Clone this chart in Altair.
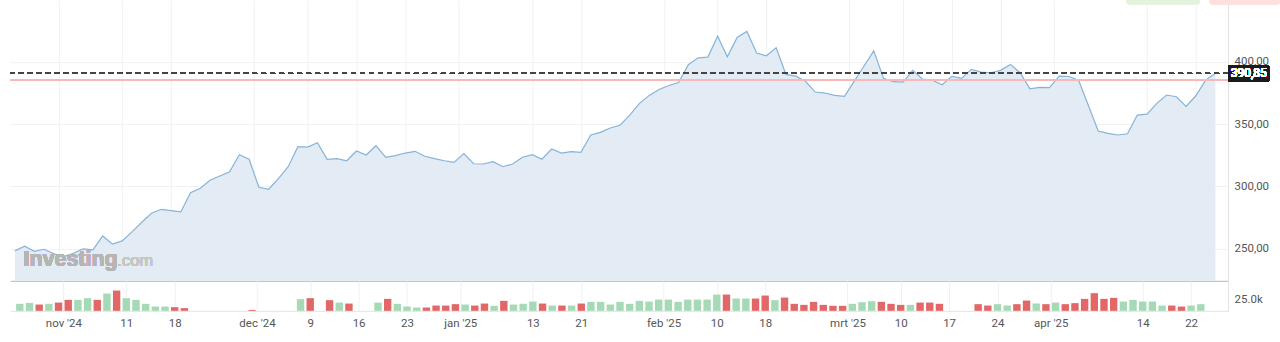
import json
import altair as alt
import pandas as pd

# ---- data (trading-day index 0 = 25 Oct 2024) ----
prices = [
    248.1, 251.8, 247.8, 249.4, 245.7, 243.5, 246.2, 249.7, 248.9, 260.1,
    253.5, 256.1, 263.4, 271.1, 278.3, 281.5, 280.4, 279.4, 294.9, 298.4,
    304.8, 308.3, 311.7, 325.4, 321.7, 299.2, 297.6, 306.1, 315.7, 331.8,
    331.5, 335.0, 321.7, 322.2, 320.5, 328.3, 325.1, 332.6, 323.3, 324.6,
    326.7, 328.1, 324.1, 322.2, 320.5, 319.2, 326.2, 318.1, 317.9, 319.7,
    315.7, 317.9, 323.3, 325.4, 321.7, 329.9, 326.7, 327.8, 327.2, 341.2,
    343.3, 346.8, 349.0, 357.2, 366.6, 373.0, 377.8, 381.0, 383.4, 397.6,
    403.2, 403.8, 420.6, 404.0, 419.6, 424.4, 407.0, 404.8, 411.2, 389.9,
    388.5, 384.3, 375.7, 374.9, 373.0, 372.2, 384.5, 396.6, 408.8, 386.7,
    384.0, 383.7, 393.1, 386.1, 385.3, 381.5, 388.3, 386.7, 393.9, 391.7,
    391.2, 393.1, 397.9, 391.2, 378.3, 379.5, 379.2, 388.5, 388.2, 385.0,
    364.7, 344.4, 342.5, 341.2, 342.2, 357.2, 358.0, 366.6, 373.3, 371.9,
    364.2, 372.7, 385.3, 390.85,
]

# volume in thousands (None = no bar)
volumes = [
    15.0, 17.1, 13.5, 15.0, 17.7, 23.5, 23.5, 27.1, 23.5, 37.0,
    43.4, 27.1, 23.5, 15.0, 9.2, 9.2, 7.9, 5.8, None, None,
    None, None, None, None, 2.0, None, None, None, None, 25.0,
    27.1, None, 22.9, 17.7, 15.6, None, None, 17.7, 25.6, 15.0,
    9.2, 7.1, 7.1, 11.3, 11.3, 14.3, 13.5, 11.3, 15.6, 10.7,
    21.4, 13.5, 15.0, 19.9, 15.6, 11.3, 11.3, 11.3, 15.6, 19.2,
    19.2, 13.5, 19.2, 15.0, 21.4, 19.9, 24.1, 24.1, 19.2, 24.1,
    24.1, 24.1, 34.8, 34.8, 26.3, 26.3, 26.3, 32.7, 22.9, 28.4,
    15.0, 12.8, 19.2, 12.8, 10.7, 10.7, 15.0, 18.6, 20.7, 19.2,
    15.0, 12.8, 12.8, 17.7, 17.7, 15.0, None, None, None, 14.3,
    11.3, 14.3, 11.3, 14.3, 22.0, 15.6, 14.3, 17.7, 14.3, 16.5,
    25.6, 37.8, 25.6, 27.8, 19.9, 23.5, 19.9, 19.9, 11.3, 11.3,
    9.2, 11.3, 14.3, None,
]

# bar colour per day: u = up day (green), d = down day (red)
direction_rows = [
    "uududduudu", "duuuuudduu", "uuuuddduuu",
    "dududududu", "uudddduddu", "duuudududu", "uuuuuuuuuu",
    "uuuduuddud", "dddddduuud", "ddudddudud", "duuddududd",
    "dddduuuuud", "duuu",
]
directions = list("".join(direction_rows))

tick_positions = [4.5, 11, 16, 24.5, 30, 35, 40, 45.5, 53, 58, 66.5, 72, 77,
                  85.5, 91, 96, 101, 106.5, 116, 121]
tick_labels = ["nov '24", "11", "18", "dec '24", "9", "16", "23", "jan '25",
               "13", "21", "feb '25", "10", "18", "mrt '25", "10", "17", "24",
               "apr '25", "14", "22"]

price_ticks = [250, 300, 350, 400]
volume_ticks = [25]

n = len(prices)
directions = (directions + ["u"] * n)[:n]
volumes = (volumes + [None] * n)[:n]

df = pd.DataFrame({
    "i": list(range(n)),
    "price": prices,
    "vol": volumes,
    "dir": ["up" if d == "u" else "down" for d in directions],
})
vol_df = df.dropna(subset=["vol"])

W = 1219.4
X_DOMAIN = [-0.5, 124.3]
FONT = "Roboto"
LABEL_COLOR = "#555555"
GRID = "#f1f1f1"

label_expr = (
    f"{json.dumps(tick_labels)}[indexof({json.dumps(tick_positions)}, datum.value)]"
)

last_price = prices[-1]
prev_close = prices[-2]

x_price = alt.X(
    "i:Q",
    scale=alt.Scale(domain=X_DOMAIN, nice=False, zero=False),
    axis=alt.Axis(values=tick_positions, labels=False, ticks=False, title=None,
                  domain=True, domainColor="#c4c4c4", domainWidth=1.2,
                  grid=True, gridColor=GRID),
)
y_price = alt.Y(
    "price:Q",
    scale=alt.Scale(domain=[224, 449.5], nice=False, zero=False),
    axis=alt.Axis(orient="right", values=price_ticks, title=None, ticks=False,
                  domain=True, domainColor="#e2e2e2", grid=True, gridColor=GRID,
                  labelExpr="replace(format(datum.value, '.2f'), '.', ',')",
                  labelPadding=6, labelFontSize=11.5, labelColor=LABEL_COLOR,
                  labelFont=FONT),
)

base = alt.Chart(df)
area = base.mark_area(color="#e3ecf5", opacity=1, clip=True).encode(x=x_price, y=y_price)
line = base.mark_line(color="#86b3d8", strokeWidth=1.2).encode(x="i:Q", y="price:Q")

prev_rule = alt.Chart(df).mark_rule(color="#f6b9b9", strokeWidth=1.4).encode(
    y=alt.datum(prev_close))
last_rule = alt.Chart(df).mark_rule(color="#444444", strokeWidth=1.1,
                                    strokeDash=[5, 4]).encode(y=alt.datum(last_price))

box = alt.Chart(df).mark_rect(color="#1b1b1b", yOffset=-8, y2Offset=8).encode(
    x=alt.value(W + 0.5), x2=alt.value(W + 41),
    y=alt.datum(last_price), y2=alt.datum(last_price))
box_text = alt.Chart(df).mark_text(
    color="white", fontSize=12, font=FONT, align="center", baseline="middle",
).encode(x=alt.value(W + 20.8), y=alt.datum(last_price),
         text=alt.value(f"{last_price:.2f}".replace(".", ",")))

wm1 = alt.Chart(df).mark_text(
    text="Investing", color="#b5b5b5", fontSize=21.5, fontWeight="bold",
    font="Liberation Sans", align="left", baseline="alphabetic",
).encode(x=alt.value(13.5), y=alt.value(266.5))
wm2 = alt.Chart(df).mark_text(
    text=".com", color="#c6c6c6", fontSize=16.5, font="Liberation Sans",
    align="left", baseline="alphabetic",
).encode(x=alt.value(107.5), y=alt.value(266.5))

# partially visible buttons at the top edge
btn_green = alt.Chart(df).mark_rect(
    color="#e4f3de", cornerRadiusBottomLeft=3, cornerRadiusBottomRight=3
).encode(x=alt.value(1118), x2=alt.value(1191), y=alt.value(0), y2=alt.value(4))
btn_red = alt.Chart(df).mark_rect(
    color="#fde0df", cornerRadiusBottomLeft=3, cornerRadiusBottomRight=3
).encode(x=alt.value(1201), x2=alt.value(1271), y=alt.value(0), y2=alt.value(4))

price_panel = alt.layer(area, line, prev_rule, last_rule, box, box_text, wm1, wm2,
                        btn_green, btn_red).properties(width=W, height=281)

vol_panel = alt.Chart(vol_df).mark_bar(width=7.4).encode(
    x=alt.X("i:Q", scale=alt.Scale(domain=X_DOMAIN, nice=False, zero=False),
            axis=alt.Axis(values=tick_positions, labelExpr=label_expr, title=None,
                          ticks=False, domain=True, domainColor="#e4e4e4",
                          grid=True, gridColor=GRID, labelFontSize=11.5,
                          labelColor=LABEL_COLOR, labelFont=FONT, labelPadding=7,
                          labelFlush=False, labelOverlap=False)),
    y=alt.Y("vol:Q", scale=alt.Scale(domain=[0, 64.1], nice=False),
            axis=alt.Axis(orient="right", values=volume_ticks, title=None,
                          ticks=False, grid=False, domain=True,
                          domainColor="#e2e2e2",
                          labelExpr="format(datum.value, '.1f') + 'k'",
                          labelPadding=6, labelFontSize=11.5,
                          labelColor=LABEL_COLOR, labelFont=FONT)),
    color=alt.Color("dir:N", scale=alt.Scale(domain=["up", "down"],
                                             range=["#a6dab6", "#e26868"]),
                    legend=None),
).properties(width=W, height=30)

chart = alt.vconcat(price_panel, vol_panel, spacing=0).properties(
    padding={"left": 9, "top": 0, "right": 0, "bottom": 0},
    background="white",
).configure_view(stroke=None)

chart.save("out.html", embed_options={"renderer": "svg", "actions": False})
